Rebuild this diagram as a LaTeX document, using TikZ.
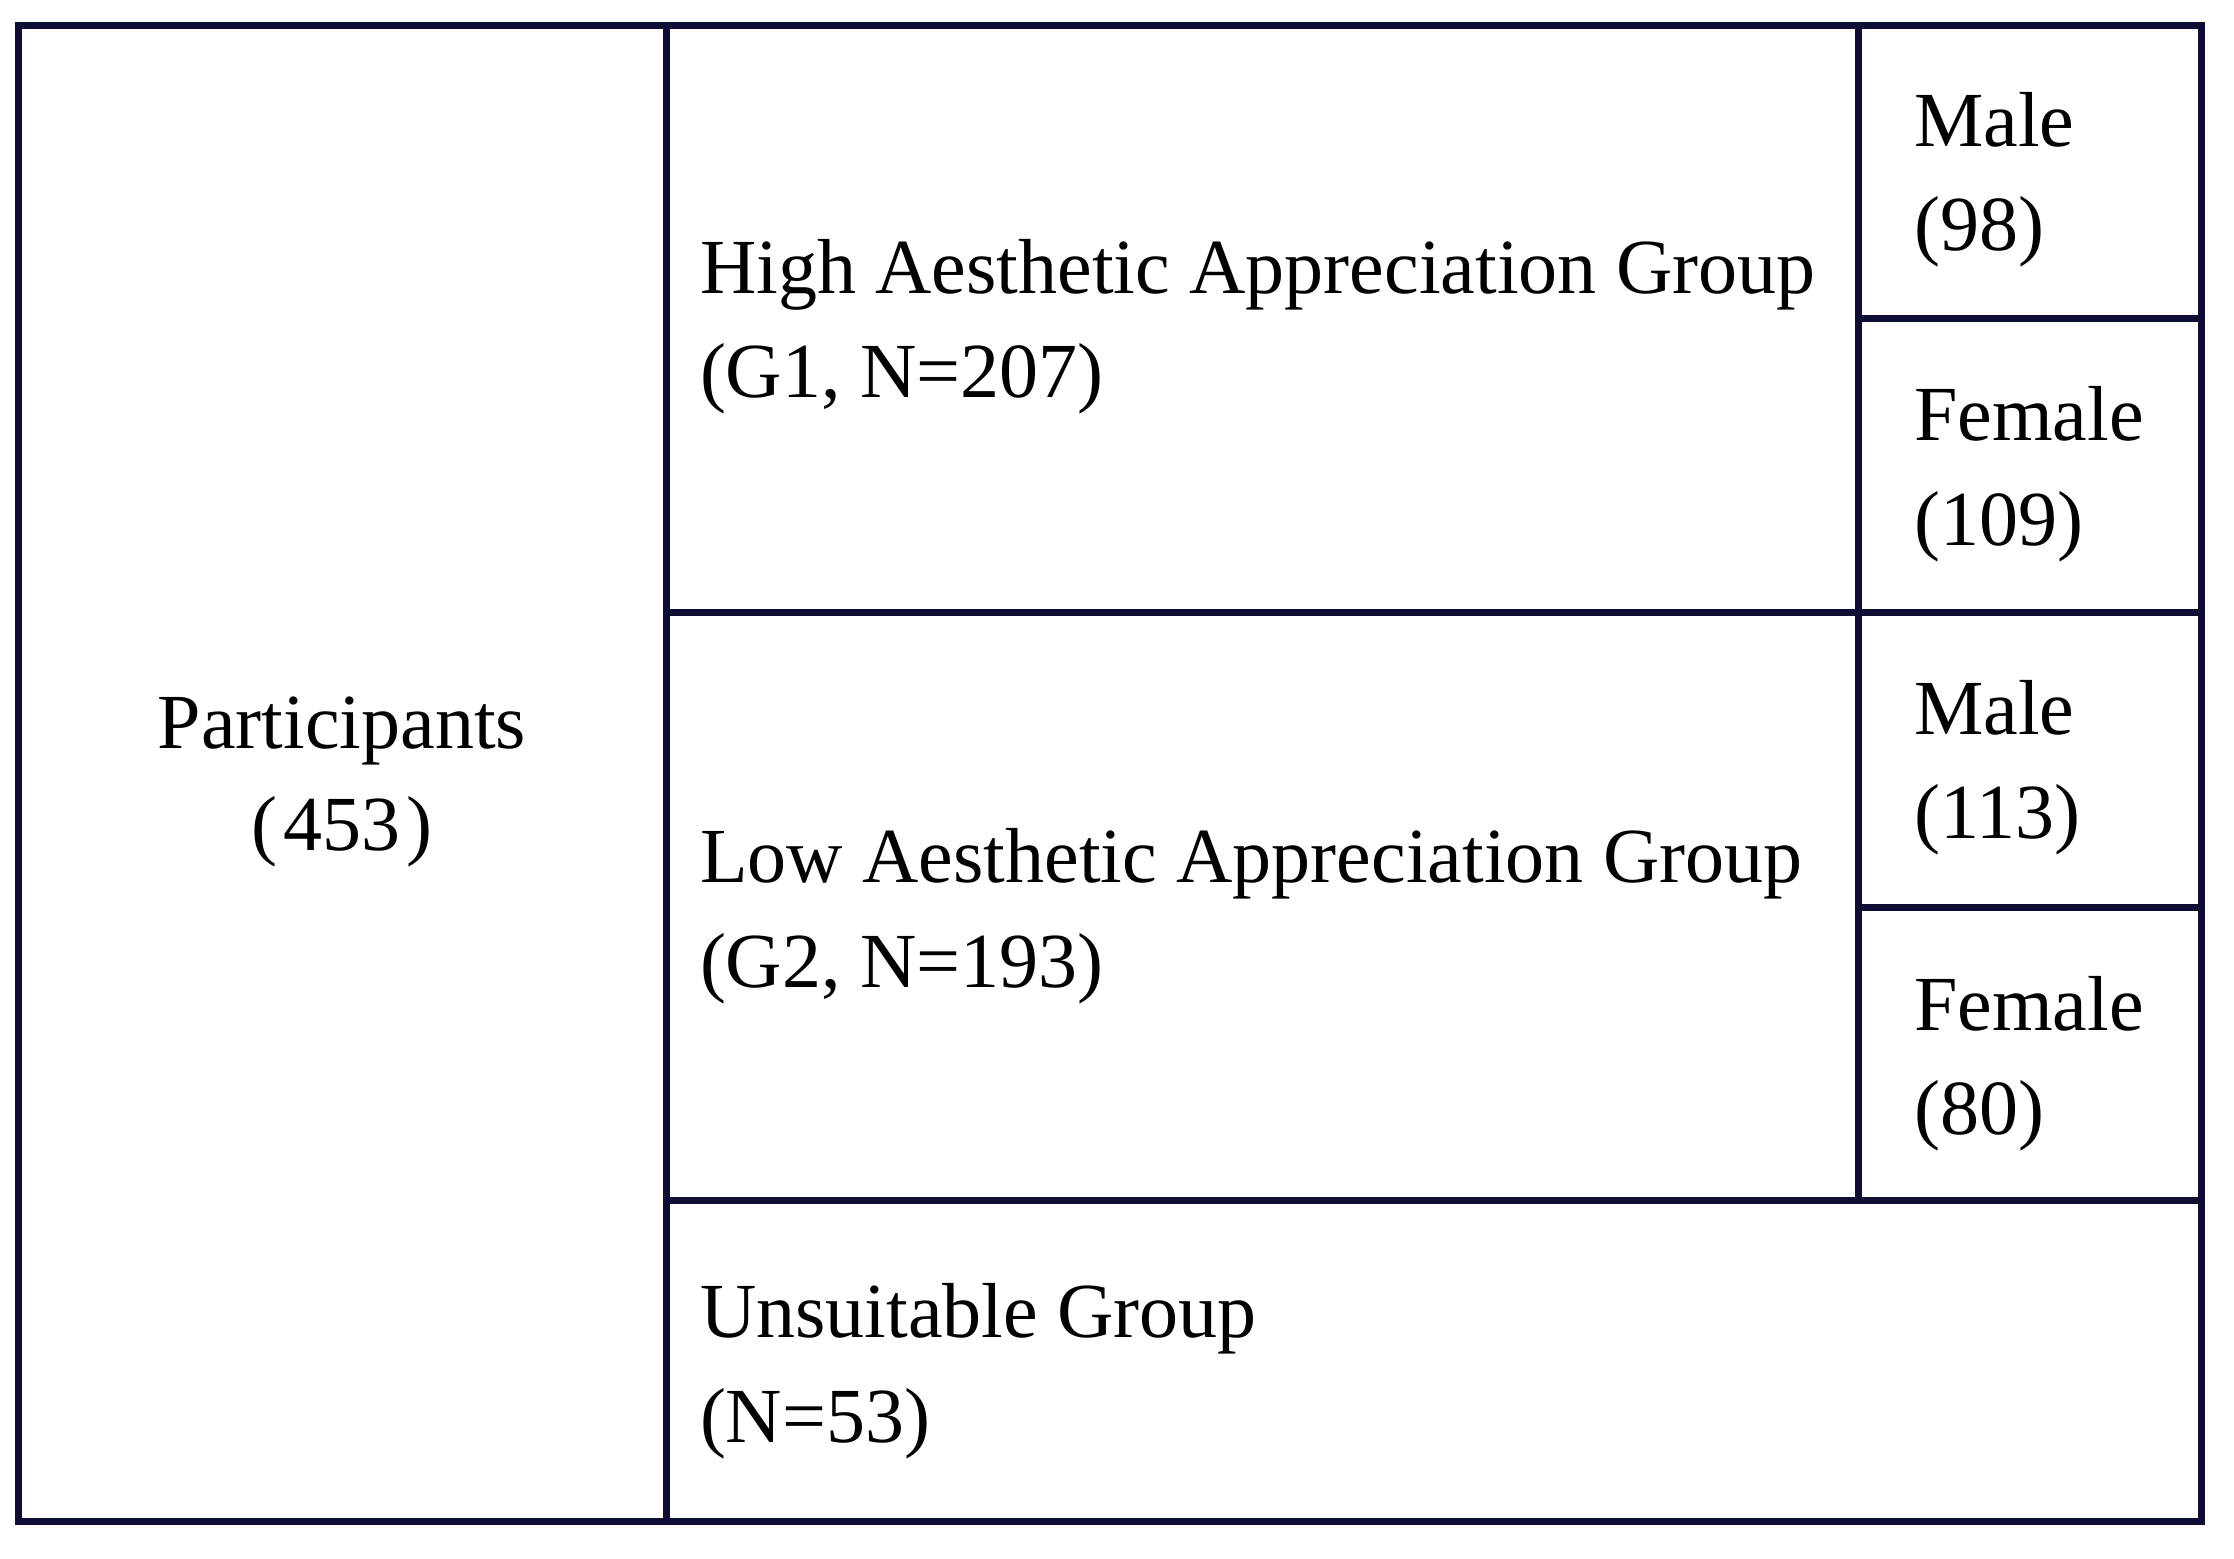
\documentclass[tikz,border=0pt]{standalone}
\usepackage{fontspec}
\setmainfont{Liberation Serif}
\definecolor{gridnavy}{RGB}{14,14,52}
\begin{document}
\begin{tikzpicture}[x=1pt,y=-1pt,
  grid/.style={draw=gridnavy,line width=7pt,line cap=rect},
  lbl/.style={inner sep=0pt,outer sep=0pt,font=\fontsize{78}{104}\selectfont,text=black}]
\useasboundingbox (0,0) rectangle (2234,1558);
% frame and dividers
\draw[grid] (18,25) rectangle (2201,1521);
\draw[grid] (666,25) -- (666,1521);
\draw[grid] (1858,25) -- (1858,1200);
\draw[grid] (666,612) -- (2201,612);
\draw[grid] (666,1200) -- (2201,1200);
\draw[grid] (1858,318) -- (2201,318);
\draw[grid] (1858,907) -- (2201,907);
% participants
\node[lbl,anchor=base] (pa) at (342,748) {Participants};
\node[lbl,anchor=base] (pb) at (342,850) {(\hspace{0.08em}453\hspace{0.08em})};
% groups
\node[lbl,anchor=base west] (g1a) at (700,293) {High Aesthetic Appreciation Group};
\node[lbl,anchor=base west] (g1b) at (700,397) {(G1, N=207)};
\node[lbl,anchor=base west] (g2a) at (700,882) {Low Aesthetic Appreciation Group};
\node[lbl,anchor=base west] (g2b) at (700,987) {(G2, N=193)};
\node[lbl,anchor=base west] (ua) at (700,1337) {Unsuitable Group};
\node[lbl,anchor=base west] (ub) at (700,1442) {(N=53)};
% sex splits
\node[lbl,anchor=base west] (m1a) at (1914,146) {Male};
\node[lbl,anchor=base west] (m1b) at (1914,250) {(98)};
\node[lbl,anchor=base west] (f1a) at (1914,440) {Female};
\node[lbl,anchor=base west] (f1b) at (1914,545) {(109)};
\node[lbl,anchor=base west] (m2a) at (1914,734) {Male};
\node[lbl,anchor=base west] (m2b) at (1914,838) {(113)};
\node[lbl,anchor=base west] (f2a) at (1914,1030) {Female};
\node[lbl,anchor=base west] (f2b) at (1914,1134) {(80)};
\end{tikzpicture}
\end{document}
